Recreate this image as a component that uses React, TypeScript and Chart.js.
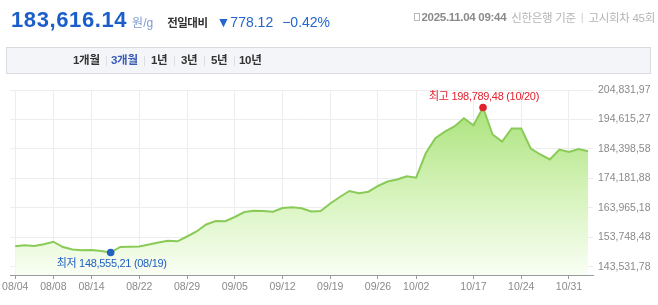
import React, { useEffect, useRef } from 'react';
import { Chart, registerables } from 'chart.js';

Chart.register(...registerables);

const dates = [
  '08/04', '08/05', '08/06', '08/07', '08/08',
  '08/11', '08/12', '08/13', '08/14',
  '08/18', '08/19', '08/20', '08/21', '08/22',
  '08/25', '08/26', '08/27', '08/28', '08/29',
  '09/01', '09/02', '09/03', '09/04', '09/05',
  '09/08', '09/09', '09/10', '09/11', '09/12',
  '09/15', '09/16', '09/17', '09/18', '09/19',
  '09/22', '09/23', '09/24', '09/25', '09/26',
  '09/29', '09/30', '10/01', '10/02',
  '10/10',
  '10/13', '10/14', '10/15', '10/16', '10/17',
  '10/20', '10/21', '10/22', '10/23', '10/24',
  '10/27', '10/28', '10/29', '10/30', '10/31',
  '11/03', '11/04',
];

const prices = [
  150701.35, 151030.2, 150810.4, 151428.6, 152294.4,
  150458.1, 149592.3, 149350.0, 149420.5,
  149073.4, 148555.21, 150458.3, 150528.0, 150631.5,
  151324.2, 152017.0, 152640.3, 152432.1, 154095.4,
  155826.7, 158251.0, 159463.2, 159400.0, 160848.5,
  162580.1, 162995.4, 162926.0, 162684.3, 163965.5,
  164242.6, 163861.4, 162753.2, 162926.1, 165524.3,
  167775.4, 169853.2, 169056.7, 169610.8, 171584.1,
  173143.3, 173835.6, 174944.2, 174459.9,
  182909.1,
  188104.0, 190390.5, 192191.2, 195066.3, 192607.4,
  198789.48, 189420.1, 186996.3, 191498.0, 191520.0,
  184572.6, 182494.1, 180762.5, 184225.4, 183360.2,
  184399.0, 183616.14,
];

const xTickLabels = ['08/04', '08/08', '08/14', '08/22', '08/29', '09/05', '09/12', '09/19', '09/26', '10/02', '10/17', '10/24', '10/31'];

const yTickValues = [143531.78, 153748.48, 163965.18, 174181.88, 184398.58, 194615.27, 204831.97];
const yTickLabels = ['143,531,78', '153,748,48', '163,965,18', '174,181,88', '184,398,58', '194,615,27', '204,831,97'];

const yAxisMin = 140761;
const yAxisMax = 204831.97;

const rangeButtons = ['1개월', '3개월', '1년', '3년', '5년', '10년'];

const FONT = '"Liberation Sans", Arial, "Noto Sans CJK KR", sans-serif';

function fmt(n: number): string {
  const [i, d] = n.toFixed(2).split('.');
  return i.replace(/\B(?=(\d{3})+(?!\d))/g, ',') + ',' + d;
}

const extremesPlugin = {
  id: 'extremes',
  afterDatasetsDraw(chart: any) {
    const meta = chart.getDatasetMeta(0);
    const ctx = chart.ctx as CanvasRenderingContext2D;
    let maxIdx = 0;
    let minIdx = 0;
    prices.forEach((p, i) => {
      if (p > prices[maxIdx]) maxIdx = i;
      if (p < prices[minIdx]) minIdx = i;
    });
    const draw = (idx: number, color: string, text: string, dy: number) => {
      const pt = meta.data[idx];
      ctx.save();
      ctx.fillStyle = color;
      ctx.beginPath();
      ctx.arc(pt.x, pt.y, 3.8, 0, Math.PI * 2);
      ctx.fill();
      ctx.font = '11px ' + FONT;
      try { (ctx as any).letterSpacing = '-0.3px'; } catch (e) {}
      ctx.textAlign = 'center';
      ctx.textBaseline = 'middle';
      ctx.fillText(text, pt.x + 1, pt.y + dy);
      ctx.restore();
    };
    draw(maxIdx, '#e3202c', `최고 ${fmt(prices[maxIdx])} (${dates[maxIdx]})`, -10);
    draw(minIdx, '#2160c4', `최저 ${fmt(prices[minIdx])} (${dates[minIdx]})`, 11);
  },
};

export default function App() {
  const ref = useRef<HTMLCanvasElement | null>(null);

  useEffect(() => {
    if (!ref.current) return;
    const chart = new Chart(ref.current, {
      type: 'line',
      data: {
        datasets: [
          {
            data: prices.map((p, i) => ({ x: i, y: p })),
            borderColor: '#8acb58',
            borderWidth: 2,
            tension: 0,
            pointRadius: 0,
            fill: 'start',
            backgroundColor: (c: any) => {
              const area = c.chart.chartArea;
              if (!area) return 'rgba(160,222,112,0.5)';
              const g = c.chart.ctx.createLinearGradient(0, area.top, 0, area.bottom);
              g.addColorStop(0, '#a2df6f');
              g.addColorStop(0.55, '#d5f3ba');
              g.addColorStop(1, '#f9fef4');
              return g;
            },
          },
        ],
      },
      options: {
        animation: false,
        responsive: false,
        maintainAspectRatio: false,
        layout: { padding: { left: 7, top: 90, right: 0, bottom: 0 } },
        plugins: { legend: { display: false }, tooltip: { enabled: false } },
        scales: {
          x: {
            type: 'linear',
            min: -0.52,
            max: 60.52,
            afterBuildTicks: (s: any) => {
              s.ticks = xTickLabels.map((l) => ({ value: dates.indexOf(l) }));
            },
            afterFit: (s: any) => {
              s.height = 30;
            },
            ticks: {
              autoSkip: false,
              maxRotation: 0,
              padding: 2,
              color: '#8a8a8a',
              font: { family: FONT, size: 10.5 },
              callback: (v: any) => dates[v] ?? '',
            },
            grid: { color: '#ededed', tickColor: '#999', tickLength: 4, drawTicks: true },
            border: { color: '#9a9a9a', width: 1 },
          },
          y: {
            position: 'right',
            min: yAxisMin,
            max: yAxisMax,
            afterBuildTicks: (s: any) => {
              s.ticks = yTickValues.map((v) => ({ value: v }));
            },
            afterFit: (s: any) => {
              s.width = 65;
            },
            ticks: {
              padding: 5,
              color: '#8a8a8a',
              font: { family: FONT, size: 10.5 },
              callback: (v: any) => yTickLabels[yTickValues.indexOf(v)] ?? '',
            },
            grid: { color: '#ededed', drawTicks: false },
            border: { display: false },
          },
        },
      } as any,
      plugins: [extremesPlugin],
    });
    return () => chart.destroy();
  }, []);

  const sepXs = [105, 143, 173, 203, 233];
  const btnXs = [72, 110, 150, 180, 210, 238];

  return (
    <div style={{ position: 'absolute', left: 0, top: 0, width: 658, height: 305, background: '#fff', overflow: 'hidden', fontFamily: FONT }}>
      <canvas ref={ref} width={658} height={305} style={{ position: 'absolute', left: 0, top: 0, width: 658, height: 305 }} />
      <div style={{ position: 'absolute', left: 11, top: 9, height: 22, display: 'flex', alignItems: 'baseline', lineHeight: '22px', whiteSpace: 'nowrap' }}>
        <span style={{ fontSize: 22, fontWeight: 'bold', color: '#1b5ec9', letterSpacing: 0.6 }}>183,616.14</span>
        <span style={{ fontSize: 12, color: '#7d9bd2', marginLeft: 5 }}>원/g</span>
        <span style={{ fontSize: 11.5, fontWeight: 'bold', color: '#333', marginLeft: 14, letterSpacing: -0.5 }}>전일대비</span>
        <span style={{ fontSize: 14, color: '#2465cf', marginLeft: 9 }}>▼778.12</span>
        <span style={{ fontSize: 14, color: '#2465cf', marginLeft: 9 }}>−0.42%</span>
      </div>
      <div style={{ position: 'absolute', right: 3, top: 9, fontSize: 11.5, whiteSpace: 'nowrap', display: 'flex', alignItems: 'center', letterSpacing: -0.3 }}>
        <span style={{ display: 'inline-block', width: 6, height: 8, border: '1px solid #b8b8b8', marginRight: 2, boxSizing: 'border-box' }} />
        <span style={{ color: '#8a8a8a', fontWeight: 'bold' }}>2025.11.04 09:44</span>
        <span style={{ color: '#b4b4b4', marginLeft: 5 }}>신한은행 기준</span>
        <span style={{ color: '#d0d0d0', margin: '0 5px' }}>|</span>
        <span style={{ color: '#b4b4b4' }}>고시회차 45회</span>
      </div>
      <div style={{ position: 'absolute', left: 6, top: 47, width: 645, height: 27, background: '#f4f5f8', border: '1px solid #d9dbe0', boxSizing: 'border-box' }}>
        {rangeButtons.map((b, i) => (
          <span key={b} style={{ position: 'absolute', left: btnXs[i] - 6, top: 5, fontSize: 11.5, fontWeight: 'bold', color: i === 1 ? '#3a5bb8' : '#333', lineHeight: '15px', whiteSpace: 'nowrap', letterSpacing: -0.3 }}>{b}</span>
        ))}
        {sepXs.map((x) => (
          <span key={x} style={{ position: 'absolute', left: x - 6, top: 8, width: 1, height: 10, background: '#dcdee2' }} />
        ))}
      </div>
    </div>
  );
}
